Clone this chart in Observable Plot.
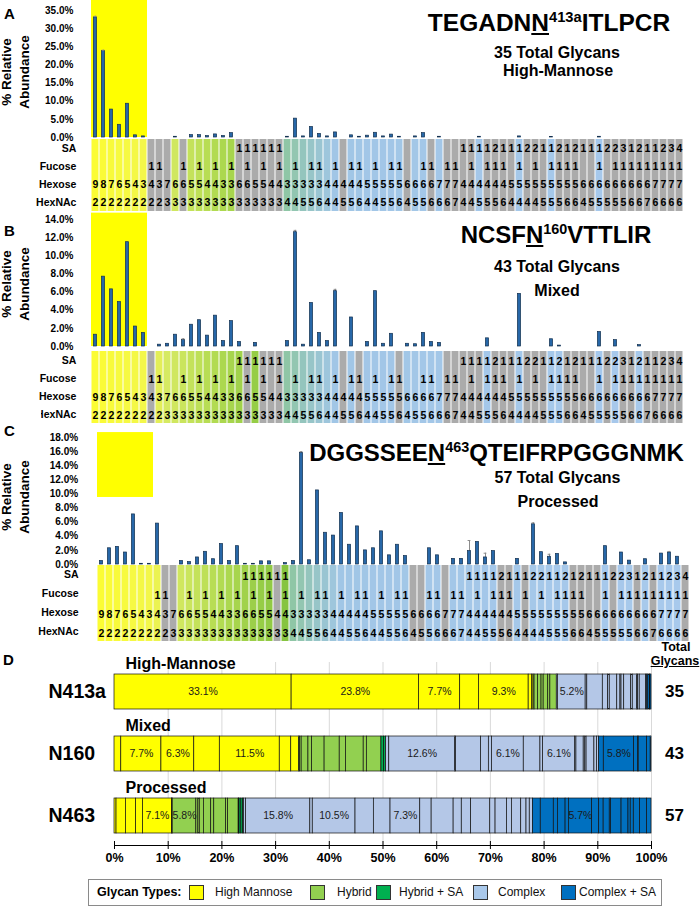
<!DOCTYPE html>
<html>
<head>
<meta charset="utf-8">
<script src="https://cdn.jsdelivr.net/npm/d3@7"></script>
<script src="https://cdn.jsdelivr.net/npm/@observablehq/plot@0.6"></script>
<style>
html,body{margin:0;padding:0;background:#fff;}
#root{position:relative;width:700px;height:911px;overflow:hidden;background:#fff;font-family:Arial,"Liberation Sans",Helvetica,sans-serif;color:#000;}
.abs{position:absolute;}
.t{position:absolute;white-space:nowrap;line-height:1;font-weight:bold;text-align:center;}
.ylab{position:absolute;white-space:nowrap;font-weight:bold;font-size:13.5px;line-height:18px;text-align:center;transform:translate(-50%,-50%) rotate(-90deg);}
.sup{font-size:0.6em;position:relative;top:-0.62em;}
.ul{text-decoration:underline;text-decoration-thickness:2px;text-underline-offset:2px;}
.leg{position:absolute;left:88px;top:879px;width:574px;height:27px;border:1px solid #8a8a8a;box-sizing:border-box;}
.sw{position:absolute;top:5px;width:15px;height:15px;border:1px solid #333;box-sizing:border-box;}
.lt{position:absolute;top:0;line-height:25px;font-size:12px;white-space:nowrap;color:#111;}
</style>
</head>
<body>
<div id="root"></div>
<script>
// ---------- glycan compositions (74 columns) ----------
const SA      = [0,0,0,0,0,0,0, 0,0, 0,0,0,0,0,0,0,0,0, 1,1,1,1,1,1, 0,0,0,0,0, 0,0,0,0,0, 0,0,0,0,0, 0,0,0,0, 0,0,0, 1,1,1,1,2,1, 1,1,2,2,1,1,2,1,2, 1,1,1,2,2,3,1,2,1, 1,2,3,4];
const Fucose  = [0,0,0,0,0,0,0, 1,1, 0,0,1,0,1,0,1,0,1, 0,1,0,1,0,1, 0,1,0,1,1, 0,1,0,1,1, 0,1,0,1,1, 0,0,1,1, 0,1,1, 0,1,0,1,1,1, 0,1,0,1,0,1,1,1,1, 0,0,1,0,1,1,1,1,1, 1,1,1,1];
const Hexose  = [9,8,7,6,5,4,3, 4,3, 7,6,6,5,5,4,4,3,3, 6,6,5,5,4,4, 3,3,3,3,3, 4,4,4,4,4, 5,5,5,5,5, 6,6,6,6, 7,7,7, 4,4,4,4,4,4, 5,5,5,5,5,5,5,5,5, 6,6,6,6,6,6,6,6,6, 7,7,7,7];
const HexNAc  = [2,2,2,2,2,2,2, 2,2, 3,3,3,3,3,3,3,3,3, 3,3,3,3,3,3, 4,4,5,5,6, 4,4,5,5,6, 4,4,5,5,6, 4,5,5,6, 6,6,7, 4,4,5,5,5,6, 4,4,4,4,5,5,5,6,6, 4,5,5,5,5,5,6,6,7, 6,6,6,6];
const glycanType = ["HM","HM","HM","HM","HM","HM","HM",
  "Hy","Hy","Hy","Hy","Hy","Hy","Hy","Hy","Hy","Hy","Hy",
  "HyS","HyS","HyS","HyS","HyS","HyS",
  "Cx","Cx","Cx","Cx","Cx","Cx","Cx","Cx","Cx","Cx","Cx","Cx","Cx","Cx","Cx","Cx","Cx","Cx","Cx","Cx","Cx","Cx",
  "CxS","CxS","CxS","CxS","CxS","CxS","CxS","CxS","CxS","CxS","CxS","CxS","CxS","CxS","CxS","CxS","CxS","CxS","CxS","CxS","CxS","CxS","CxS","CxS","CxS","CxS","CxS","CxS"];

// ---------- % relative abundance per site ----------
const abundA = [33.1,23.8,7.7,3.5,9.3,0.6,0.3, 0,0,0,0.2,0,0.65,0.65,0.4,0.85,0.4,1.2, 0,0,0,0,0,0,
  0.2,5.2,0.3,2.9,1.0,0.3,1.4,0,0.6,0.2,0.5,1.3,0.3,0.8,0.2,0,0.3,1.2,0,0.2,0,0,
  0,0,0.2,0,0,0,0,0.3,0,0,0,0.1,0,0,0,0,0,0.2,0,0,0,0,0,0,0,0,0,0];
const abundB = [1.3,7.7,6.3,4.9,11.5,2.2,1.5, 0,0.2,0.3,1.3,0.7,2.4,2.9,1.2,3.4,0.6,2.8, 0.5,0,0.4,0,0,0,
  0.6,12.6,0.2,4.8,1.5,0.6,6.1,0,3.2,0,0.5,6.1,0.3,1.4,0,0.3,0.25,1.5,0.5,0.4,0,0,
  0,0,0,0.9,0,0,0,5.8,0,0,0,0.8,0.1,0,0,0,0,1.6,0,0.7,0,0,0.15,0,0,0,0,0];
const abundC = [0.5,2.3,2.5,1.7,7.1,0.1,0.1, 5.8,0,0,0.5,0.35,1.0,1.8,0.75,2.9,0.5,2.6, 0.1,0.1,0.45,0.45,0,0.2,
  0.5,15.8,0.6,10.5,4.5,4.1,7.3,2.8,5.4,2.0,2.3,4.7,1.3,2.8,1.2,0,0,2.3,1.3,0,0.8,0.8,
  1.9,3.2,1.0,1.9,0,0,0.8,0,5.7,1.75,1.1,1.5,0.3,0,0,0,0,2.6,0,1.7,0.55,0,0.75,0,1.55,1.7,1.1,0];

// error bars (column, size)
const errColsA = [1,2],            errValsA = [0.3,0.25];
const errColsB = [12,26,31],       errValsB = [0.15,0.2,0.2];
const errColsC = [26,47,49,55,57,72], errValsC = [0.2,1.5,0.6,0.2,0.35,0.15];

// yellow high-mannose highlight extent (in % units)
const highlightA = [0, 37.8];
const highlightB = [0, 14.7];
const highlightC = [9.5, 18.7];

// panel D
const sites = ["N413a","N160","N463"];
const siteKinds = ["High-Mannose","Mixed","Processed"];
const labelColsA = [1,2,3,5,26];
const labelColsB = [2,3,5,26,31,36,54];
const labelColsC = [5,8,26,28,31,55];
const typeKeys = ["HM","Hy","HyS","Cx","CxS"];
const typeNames = ["High Mannose","Hybrid","Hybrid + SA","Complex","Complex + SA"];
const typeColors = ["#ffff00","#92d050","#00b050","#b4c7e7","#0070c0"];
const axisTicksD = [0,0.1,0.2,0.3,0.4,0.5,0.6,0.7,0.8,0.9,1];

// ---------- drawing ----------
const cols = d3.range(1, SA.length + 1);
const rowNames = ["SA","Fucose","Hexose","HexNAc"];
const rowArrays = [SA, Fucose, Hexose, HexNAc];
const FONT = "Arial, 'Liberation Sans', Helvetica, sans-serif";
const SVGSTYLE = `font-family:${FONT};font-weight:bold;font-size:10px;background:transparent;overflow:visible;color:#000;`;
const BAR = "#2767a8", BAR_EDGE = "#15314f", ERR = "#8c8c8c", GRAY = "#ababab";
const cellColor = d3.scaleLinear()
  .domain([1,7,9,10,17,24,25,28,31,74])
  .range(["#fbfc34","#f3f74a","#e3ee58","#d6ea62","#acd84f","#86c440","#8fc6a6","#97c5c8","#a1c6e6","#a8c9ec"])
  .interpolate(d3.interpolateRgb);

const root = document.getElementById("root");
function place(node, left, top) {
  const w = document.createElement("div");
  w.className = "abs"; w.style.left = left + "px"; w.style.top = top + "px";
  w.appendChild(node); root.appendChild(w);
}
function html(s) { root.insertAdjacentHTML("beforeend", s); }

function barPanel(o) {
  const data = cols.map((c, i) => ({col: c, v: o.abund[i]})).filter(d => d.v > 0);
  const errs = o.errCols.map((c, k) => ({col: c, v: o.abund[c - 1], e: o.errVals[k]}));
  const hm = cols.filter((c, i) => glycanType[i] === "HM");
  return Plot.plot({
    width: 700, height: 140, marginTop: 10, marginBottom: 3, marginLeft: o.mL, marginRight: o.mR,
    style: SVGSTYLE,
    x: {type: "band", domain: cols, padding: 0, axis: null},
    y: {domain: [0, o.yMax], ticks: d3.range(0, o.yMax + 1e-9, o.yStep), tickFormat: d => d.toFixed(1) + "%",
        tickSize: 0, tickPadding: o.tickPad, label: null},
    marks: [
      Plot.barY(hm, {x: d => d, y1: o.hl[0], y2: o.hl[1], fill: "#ffff00"}),
      Plot.ruleX(errs, {x: "col", y1: d => d.v - d.e, y2: d => d.v + d.e, stroke: ERR}),
      Plot.barY(data, {x: "col", y: "v", fill: BAR, stroke: BAR_EDGE, strokeWidth: 0.7, insetLeft: 2.4, insetRight: 2.4}),
      Plot.tickY(errs, {x: "col", y: d => d.v + d.e, stroke: ERR, insetLeft: 2.6, insetRight: 2.6})
    ]
  });
}

function tablePanel(o) {
  const cells = [];
  rowNames.forEach((r, ri) => cols.forEach((c, i) => cells.push({
    col: c, row: r, val: rowArrays[ri][i], fill: o.abund[i] > 0 ? cellColor(c) : GRAY
  })));
  return Plot.plot({
    width: 700, height: o.height, marginTop: 0, marginBottom: 0, marginLeft: o.mL, marginRight: o.mR,
    style: SVGSTYLE + "font-size:10.5px;",
    x: {type: "band", domain: cols, padding: 0, axis: null},
    y: {type: "band", domain: rowNames, padding: 0, tickSize: 0, tickPadding: o.tickPad, label: null},
    marks: [
      Plot.cell(cells, {x: "col", y: "row", fill: "fill", insetLeft: 0.5, insetRight: 0.5}),
      Plot.text(cells.filter(d => d.val > 0), {x: "col", y: "row", text: d => String(d.val), fontSize: 10.5, dy: o.dy})
    ]
  });
}

// Panel A
place(barPanel({abund: abundA, errCols: errColsA, errVals: errValsA, yMax: 35, yStep: 5, hl: highlightA, mL: 81.9, mR: 7.6, tickPad: 9}), 0, 0);
place(tablePanel({abund: abundA, mL: 81.9, mR: 7.6, height: 73, tickPad: 6, dy: 0.5}), 0, 138);
// Panel B
place(barPanel({abund: abundB, errCols: errColsB, errVals: errValsB, yMax: 14, yStep: 2, hl: highlightB, mL: 81.9, mR: 7.6, tickPad: 9}), 0, 209);
place(tablePanel({abund: abundB, mL: 81.9, mR: 7.6, height: 74, tickPad: 6, dy: 1}), 0, 350);
// Panel C
place(barPanel({abund: abundC, errCols: errColsC, errVals: errValsC, yMax: 18, yStep: 2, hl: highlightC, mL: 87.6, mR: 1.9, tickPad: 10}), 0, 427);
place(tablePanel({abund: abundC, mL: 87.6, mR: 1.9, height: 76, tickPad: 9.5, dy: 2}), 0, 565);

// Panel D
const abundAll = [abundA, abundB, abundC];
const labelCols = [labelColsA, labelColsB, labelColsC];
const dRows = [];
sites.forEach((s, si) => abundAll[si].forEach((v, i) => {
  if (v > 0) dRows.push({site: s, col: i + 1, v, type: glycanType[i], lab: labelCols[si].includes(i + 1)});
}));
const totals = abundAll.map(a => a.filter(v => v > 0).length);
const dPlot = Plot.plot({
  width: 700, height: 240, marginTop: 22, marginBottom: 35, marginLeft: 114, marginRight: 49,
  style: SVGSTYLE + "font-size:12.5px;",
  x: {domain: [0, 1], ticks: axisTicksD, tickFormat: d3.format(".0%"), tickSize: 4, tickPadding: 4, line: true, label: null},
  y: {domain: sites, paddingInner: 0.438, paddingOuter: 0.193, axis: null},
  color: {domain: typeKeys, range: typeColors},
  marks: [
    Plot.ruleX(axisTicksD.slice(1), {x: d => d, stroke: "#d9d9d9"}),
    Plot.barX(dRows, Plot.stackX({x: "v", y: "site", fill: "type", offset: "normalize", stroke: "#111", strokeWidth: 0.7})),
    Plot.text(dRows, Plot.stackX({x: "v", y: "site", offset: "normalize",
      text: d => d.lab ? d.v.toFixed(1) + "%" : "", fontWeight: "normal", fontSize: 10.5, fill: "#1a1a1a"})),
    Plot.tickX(axisTicksD, {x: d => d, insetTop: 179, stroke: "#000"}),
    Plot.text(sites, {x: 0, y: d => d, dx: -66, textAnchor: "start", text: d => d, fontSize: 19.5}),
    Plot.text(sites, {x: 0, y: d => d, dx: 11, dy: -28.5, textAnchor: "start", text: (d, i) => siteKinds[i], fontSize: 16}),
    Plot.text(sites, {x: 1, y: d => d, dx: 23, text: (d, i) => String(totals[i]), fontSize: 17})
  ]
});
place(dPlot, 0, 640);

// ---------- text overlays ----------
function T(txt, cx, top, size) {
  html(`<div class="t" style="left:${cx - 300}px;width:600px;top:${top}px;font-size:${size}px">${txt}</div>`);
}
T(`TEGADN<span class="ul">N</span><span class="sup">413a</span>ITLPCR`, 549, 10.8, 24.5);
T(`35 Total Glycans`, 557, 45, 16);
T(`High-Mannose`, 558, 63, 16);
T(`NCSF<span class="ul">N</span><span class="sup">160</span>VTTLIR`, 556, 223.2, 24);
T(`43 Total Glycans`, 557, 259, 16);
T(`Mixed`, 557, 282.5, 16);
T(`DGGSSEE<span class="ul">N</span><span class="sup">463</span>QTEIFRPGGGNMK`, 496.5, 440.7, 24);
T(`57 Total Glycans`, 557.5, 469.5, 16);
T(`Processed`, 558, 494, 16);

html(`<div class="t" style="left:4px;top:6px;font-size:15px;text-align:left">A</div>`);
html(`<div class="t" style="left:4px;top:222.5px;font-size:15px;text-align:left">B</div>`);
html(`<div style="position:absolute;left:0;top:410px;width:41px;height:30px;background:#fff"><div class="t" style="left:4px;top:13px;font-size:15px;text-align:left">C</div></div>`);
html(`<div class="t" style="left:3px;top:652px;font-size:15px;text-align:left">D</div>`);

html(`<div class="ylab" style="left:16px;top:72px">% Relative<br>Abundance</div>`);
html(`<div class="ylab" style="left:16px;top:284px">% Relative<br>Abundance</div>`);
html(`<div class="ylab" style="left:16px;top:497px">% Relative<br>Abundance</div>`);

html(`<div class="t" style="left:626px;width:100px;top:641.4px;font-size:12.5px">Total</div>`);
html(`<div class="t" style="left:625px;width:100px;top:655.4px;font-size:12.5px"><span style="text-decoration:underline">Glycans</span></div>`);

// legend
const swX = [100, 221, 287, 384, 472];
const ltX = [126, 248, 310, 409, 490];
let leg = `<div class="leg"><div class="lt" style="left:8px;font-weight:bold;font-size:12.5px;color:#000">Glycan Types:</div>`;
typeKeys.forEach((k, i) => {
  leg += `<div class="sw" style="left:${swX[i]}px;background:${i === 3 ? "#a9c8ea" : typeColors[i]}"></div>`;
  leg += `<div class="lt" style="left:${ltX[i]}px">${typeNames[i]}</div>`;
});
leg += `</div>`;
html(leg);
</script>
</body>
</html>
